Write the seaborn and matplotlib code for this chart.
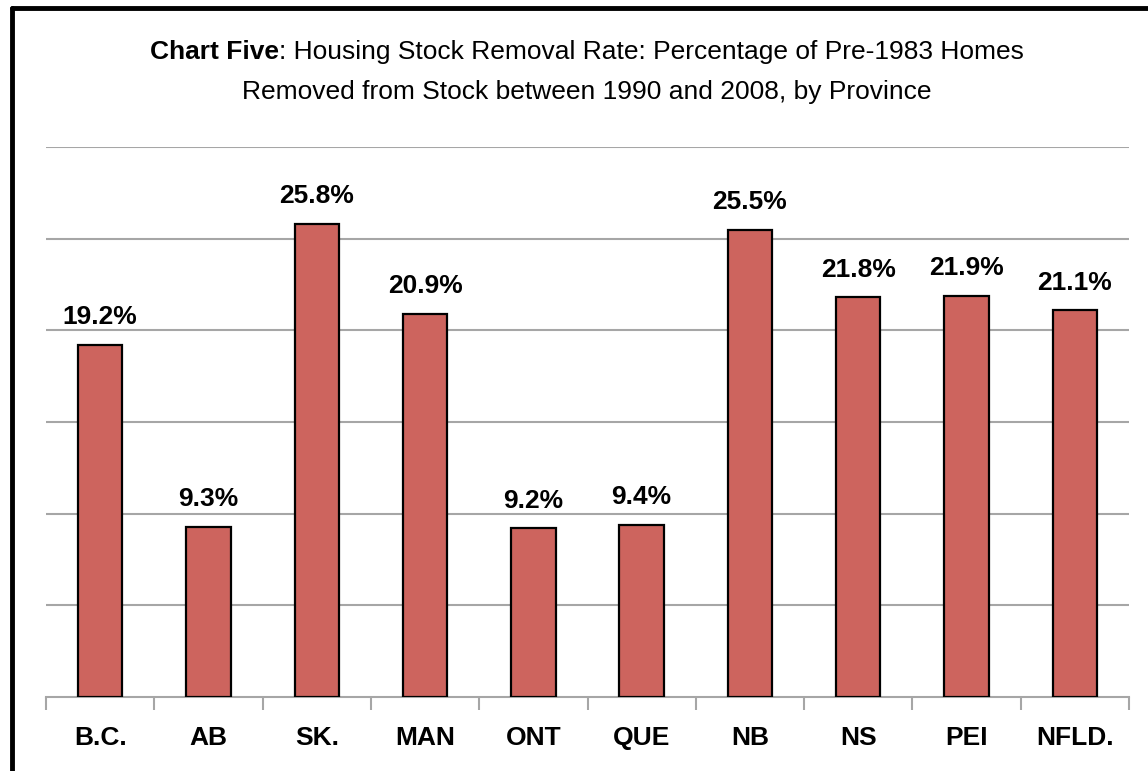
import matplotlib
matplotlib.use("Agg")
import matplotlib.pyplot as plt
import seaborn as sns
import pandas as pd
from matplotlib.lines import Line2D

# data
provinces = ["B.C.", "AB", "SK.", "MAN", "ONT", "QUE", "NB", "NS", "PEI", "NFLD."]
removal_rate = [19.2, 9.3, 25.8, 20.9, 9.2, 9.4, 25.5, 21.8, 21.9, 21.1]

df = pd.DataFrame({"Province": provinces, "Rate": removal_rate})

sns.set_style("white")
plt.rcParams["font.family"] = ["Liberation Sans", "DejaVu Sans"]
plt.rcParams["text.color"] = "black"
plt.rcParams["xtick.color"] = "black"

fig = plt.figure(figsize=(11.48, 7.71), dpi=100)
ax = fig.add_axes([46 / 1148, 74 / 771, (1129 - 46) / 1148, (697 - 147) / 771])

sns.barplot(data=df, x="Province", y="Rate", color="#CD645E", edgecolor="black",
            linewidth=1.6, width=0.41, saturation=1, ax=ax, zorder=3)

ax.set_ylim(0, 30)
ax.set_xlim(-0.5, len(provinces) - 0.5)
ax.set_yticks([5, 10, 15, 20, 25, 30])
ax.yaxis.grid(True, color="#A6A6A6", linewidth=1.5, zorder=0)
ax.set_yticklabels([])
ax.tick_params(axis="y", length=0)
ax.set_xlabel("")
ax.set_ylabel("")
for s in ["top", "right", "left"]:
    ax.spines[s].set_visible(False)
ax.spines["bottom"].set_color("#A6A6A6")
ax.spines["bottom"].set_linewidth(1.5)

ax.set_xticks([i - 0.5 for i in range(len(provinces) + 1)], minor=True)
ax.tick_params(axis="x", which="minor", bottom=True, length=9, width=1.5,
               color="#A6A6A6")
ax.tick_params(axis="x", which="major", length=0, pad=21, labelsize=19,
               labelcolor="black")
for lbl in ax.get_xticklabels():
    lbl.set_fontweight("bold")

for i, v in enumerate(removal_rate):
    ax.text(i, v + 0.85, f"{v}%", ha="center", va="bottom", fontsize=19,
            fontweight="bold", color="black")

# title with bold lead-in
fig.canvas.draw()
r = fig.canvas.get_renderer()
y1 = 1 - 52 / 771
t_bold = fig.text(0, y1, "Chart Five", fontsize=19, fontweight="bold", va="center")
t_rest = fig.text(0, y1, ": Housing Stock Removal Rate: Percentage of Pre-1983 Homes",
                  fontsize=19, va="center")
w1 = t_bold.get_window_extent(r).width
w2 = t_rest.get_window_extent(r).width
x0 = 587 - (w1 + w2) / 2
t_bold.set_x(x0 / 1148)
t_rest.set_x((x0 + w1) / 1148)
fig.text(587 / 1148, 1 - 92 / 771,
         "Removed from Stock between 1990 and 2008, by Province",
         fontsize=19, ha="center", va="center")

# outer frame (left and top edges only visible)
fig.add_artist(Line2D([11.5 / 1148, 11.5 / 1148], [0, 1 - 8 / 771],
                      transform=fig.transFigure, color="black", linewidth=3.5))
fig.add_artist(Line2D([11.5 / 1148, 1], [1 - 8 / 771, 1 - 8 / 771],
                      transform=fig.transFigure, color="black", linewidth=3.5))

fig.savefig("out.png", dpi=100)
